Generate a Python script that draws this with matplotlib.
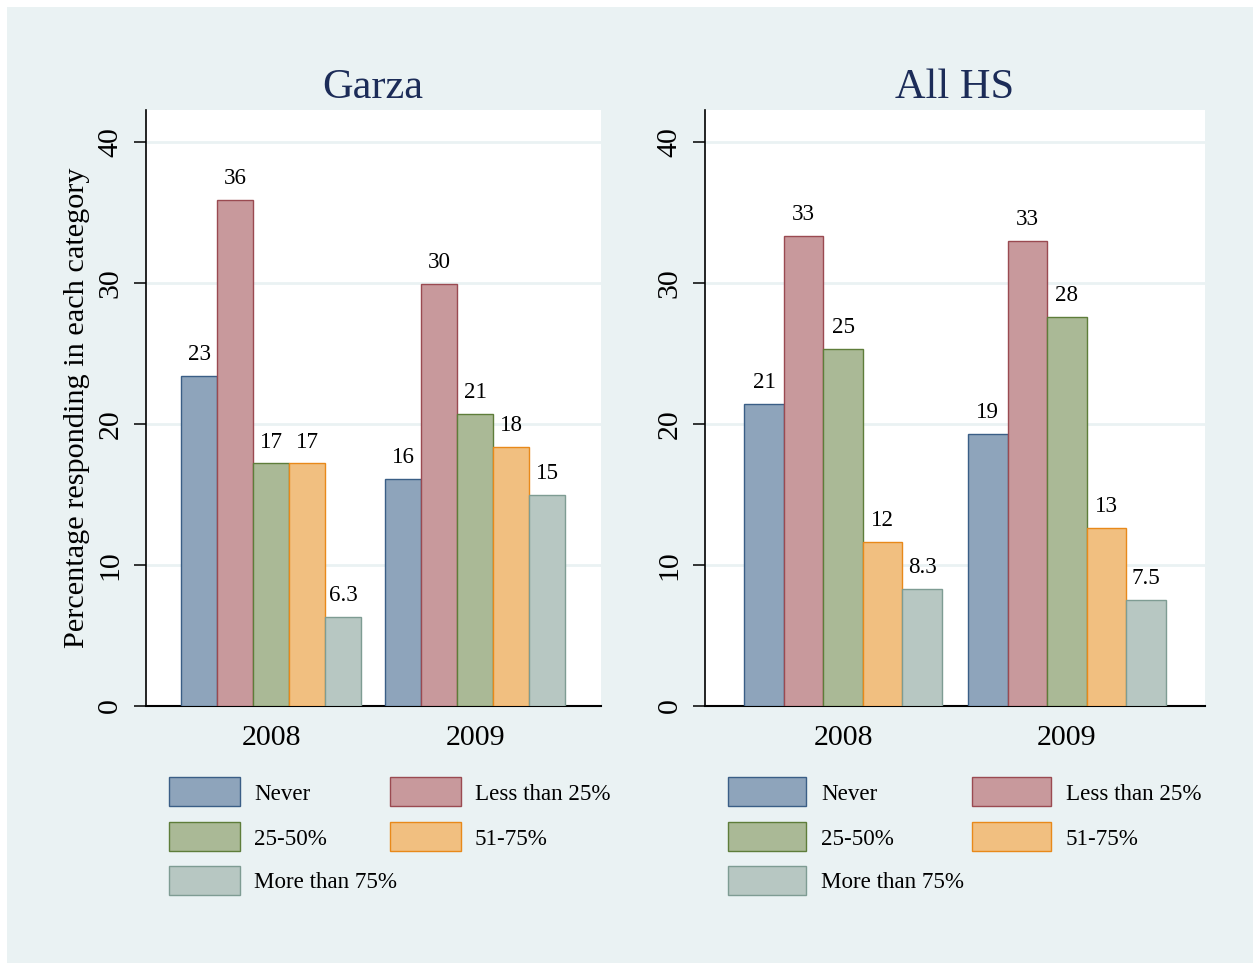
import matplotlib
matplotlib.use("Agg")
import matplotlib.pyplot as plt
from matplotlib.patches import Rectangle

plt.rcParams['font.family'] = ['Liberation Serif', 'DejaVu Serif']

### data
years = ["2008", "2009"]
categories = ["Never", "Less than 25%", "25-50%", "51-75%", "More than 75%"]
panels = ["Garza", "All HS"]
# one value per category, for each panel and year
garza_2008 = [23.4, 35.9, 17.2, 17.2, 6.3]
garza_2009 = [16.1, 29.9, 20.7, 18.4, 15.0]
allhs_2008 = [21.4, 33.3, 25.3, 11.6, 8.3]
allhs_2009 = [19.3, 33.0, 27.6, 12.6, 7.5]
panel_values = [[garza_2008, garza_2009], [allhs_2008, allhs_2009]]

### style (Stata s2color look)
edge_cols = ["#3A5E86", "#9A4A51", "#5E7D3A", "#E8891A", "#7E9C93"]
face_cols = ["#8EA4BB", "#C8999C", "#AAB996", "#F1BF80", "#B7C7C2"]
bg = "#EAF2F3"
title_col = "#1C2C58"

W, H = 1253, 963
fig = plt.figure(figsize=(W / 100, H / 100), dpi=100, facecolor="white")

def px(x0, y0, w, h):
    # pixel box (top-left origin) -> figure fraction
    return [x0 / W, 1 - (y0 + h) / H, w / W, h / H]

fig.add_artist(Rectangle((7 / W, 0), 1, 1 - 7 / H, transform=fig.transFigure,
                         facecolor=bg, edgecolor="none", zorder=0))

ax_boxes = [px(145.5, 110, 455.5, 596), px(705, 110, 500, 596)]
legend_x = [(169, 240, 254, 390, 461, 475), (728, 806, 821, 972, 1051, 1066)]
row_y = [791, 836, 880]

outer, gap = 1.0, 0.67
ytop = 596 / 14.1

for p, name in enumerate(panels):
    ax = fig.add_axes(ax_boxes[p])
    ax.set_facecolor("white")
    for g, year in enumerate(years):
        vals = panel_values[p][g]
        start = outer + g * (5 + gap)
        for i, v in enumerate(vals):
            ax.bar(start + i, v, width=1.0, align="edge", color=face_cols[i],
                   edgecolor=edge_cols[i], linewidth=1.0, zorder=3)
            ax.annotate(f"{v:.2g}", (start + i + 0.5, v), xytext=(0, 11.5),
                        textcoords="offset points", ha="center", va="baseline",
                        fontsize=16.6)
    ax.set_xlim(0, 2 * outer + 10 + gap)
    ax.set_ylim(0, ytop)
    ax.set_xticks([outer + g * (5 + gap) + 2.5 for g in range(2)])
    ax.set_xticklabels(years, fontsize=21.5)
    ax.tick_params(axis="x", length=0, pad=13.5)
    ax.set_yticks([0, 10, 20, 30, 40])
    ax.tick_params(axis="y", length=9, width=1.1, pad=7, labelsize=21.5)
    for lab in ax.get_yticklabels():
        lab.set_rotation(90)
        lab.set_va("center")
    ax.yaxis.grid(True, color=bg, linewidth=2, zorder=1)
    ax.set_axisbelow(True)
    for s in ["top", "right"]:
        ax.spines[s].set_visible(False)
    ax.spines["left"].set_linewidth(1.2)
    ax.spines["bottom"].set_linewidth(1.5)
    ax.set_title(name, fontsize=30.5, color=title_col, pad=9)
    if p == 0:
        ax.set_ylabel("Percentage responding in each category", fontsize=21.8, labelpad=5)

    # legend, laid out like Stata's 2-column key
    bx0, bx1, tx, cx0, cx1, ctx = legend_x[p]
    order = [(0, 0, 0), (1, 0, 1), (2, 1, 0), (3, 1, 1), (4, 2, 0)]
    for i, r, c in order:
        x0, x1, xt = (bx0, bx1, tx) if c == 0 else (cx0, cx1, ctx)
        yc = row_y[r]
        fig.add_artist(Rectangle((x0 / W, 1 - (yc + 14.5) / H), (x1 - x0) / W, 29 / H,
                                 transform=fig.transFigure, facecolor=face_cols[i],
                                 edgecolor=edge_cols[i], linewidth=1.0))
        fig.text(xt / W, 1 - (yc + 3) / H, categories[i], fontsize=16.6,
                 ha="left", va="center")

fig.savefig("out.png", dpi=100, facecolor=fig.get_facecolor())
